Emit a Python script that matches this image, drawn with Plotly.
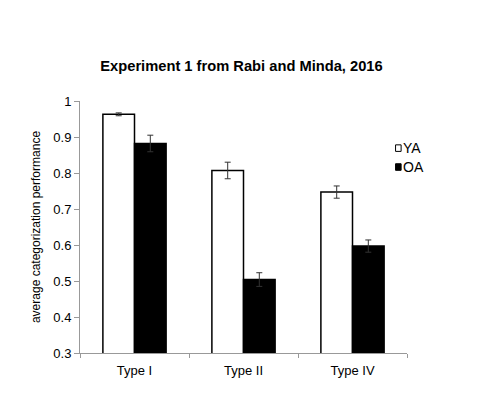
import plotly.graph_objects as go

categories = ["Type I", "Type II", "Type IV"]
ya_values = [0.963, 0.807, 0.747]
ya_errors = [0.004, 0.023, 0.017]
oa_values = [0.882, 0.504, 0.597]
oa_errors = [0.023, 0.019, 0.017]
y_ticks = [0.3, 0.4, 0.5, 0.6, 0.7, 0.8, 0.9, 1.0]
y_tick_labels = ["0.3", "0.4", "0.5", "0.6", "0.7", "0.8", "0.9", "1"]
series_names = ["YA", "OA"]

FONT = "Liberation Sans, Arial, sans-serif"

fig = go.Figure()
fig.add_trace(go.Bar(
    name=series_names[0], x=categories, y=ya_values,
    marker=dict(color="white", line=dict(color="black", width=1.5)),
    error_y=dict(type="data", array=ya_errors, color="#333", thickness=1, width=3),
))
fig.add_trace(go.Bar(
    name=series_names[1], x=categories, y=oa_values,
    marker=dict(color="black", line=dict(color="black", width=1.5)),
    error_y=dict(type="data", array=oa_errors, color="#333", thickness=1, width=3),
))

# manual legend (small squares followed directly by the text)
legend_y = [0.813, 0.738]
for name, ly, fill in zip(series_names, legend_y, ["white", "black"]):
    fig.add_shape(type="rect", xref="paper", yref="paper",
                  x0=0.965, x1=0.982, y0=ly - 0.013, y1=ly + 0.013,
                  line=dict(color="black", width=1), fillcolor=fill)
    fig.add_annotation(text=name, xref="paper", yref="paper", x=0.983, y=ly,
                       xanchor="left", yanchor="middle", showarrow=False,
                       font=dict(family=FONT, size=14, color="black"))

fig.update_layout(
    width=500, height=399,
    paper_bgcolor="white", plot_bgcolor="white",
    margin=dict(l=72, r=101, t=93, b=54, autoexpand=False),
    barmode="group", bargap=0.42, bargroupgap=0,
    font=dict(family=FONT, size=12, color="black"),
    title=dict(text="<b>Experiment 1 from Rabi and Minda, 2016</b>",
               x=0.467, xanchor="center", y=0.855, yanchor="middle",
               font=dict(family=FONT, size=14.7, color="black")),
    showlegend=False,
)
fig.update_xaxes(
    showline=True, linecolor="#999", linewidth=1, automargin=False,
    ticks="outside", tickson="boundaries", ticklen=4, tickcolor="#999",
    ticklabelstandoff=5,
    showgrid=False, tickfont=dict(size=13),
)
fig.update_yaxes(
    range=[0.3, 1.0], tickvals=y_ticks, ticktext=y_tick_labels, automargin=False,
    showline=True, linecolor="#999", linewidth=1,
    ticks="outside", ticklen=5, tickcolor="#999",
    showgrid=False, zeroline=False, tickfont=dict(size=13),
    title=dict(text="average categorization performance", font=dict(size=12), standoff=10),
)

fig.write_html("out.html")
